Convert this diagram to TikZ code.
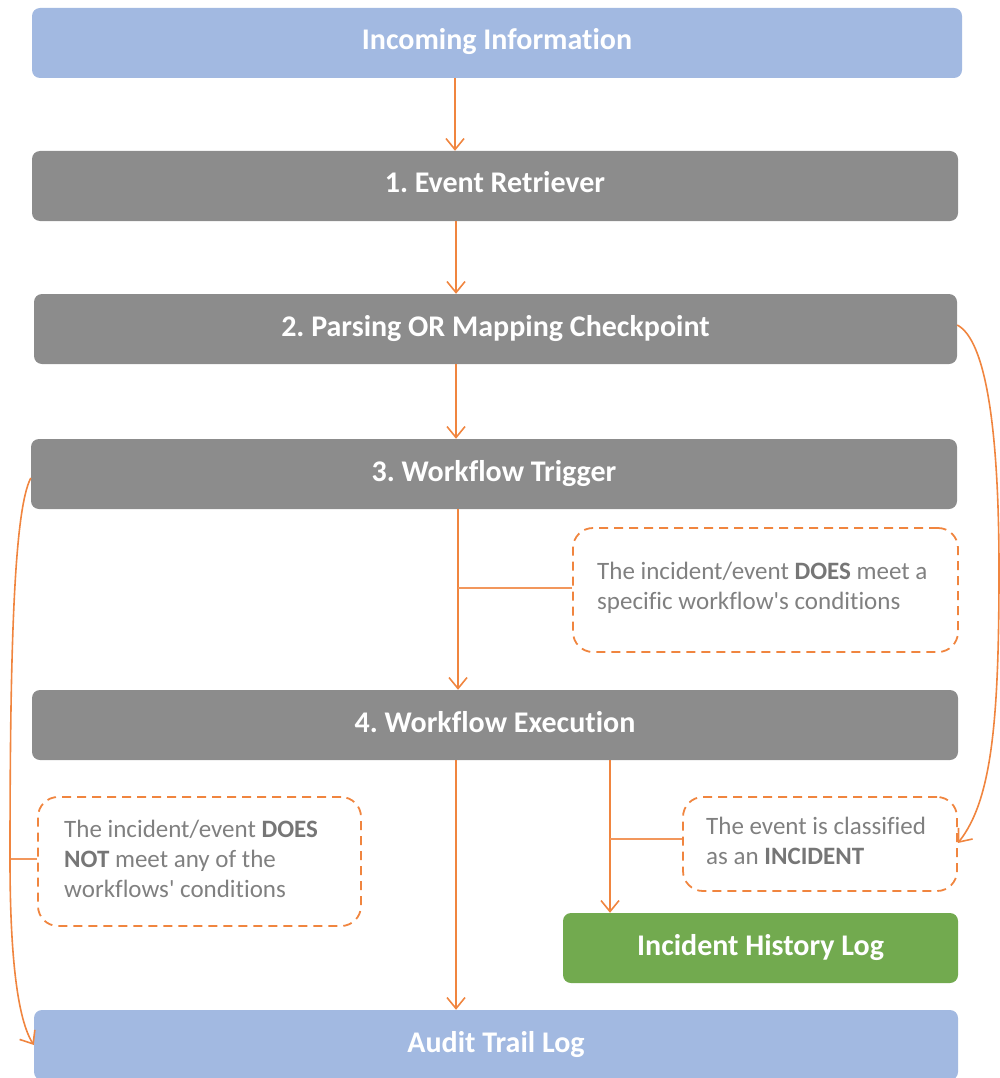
\documentclass[tikz,border=0pt]{standalone}
\usepackage{fontspec}
\setmainfont{Carlito}[Ligatures={NoCommon}]
\usetikzlibrary{arrows.meta}
\definecolor{boxblue}{HTML}{A2B9E1}
\definecolor{boxgray}{HTML}{8C8C8C}
\definecolor{boxgreen}{HTML}{72AA4F}
\definecolor{arrorange}{HTML}{F0853F}
\definecolor{txtgray}{HTML}{808080}
\definecolor{boldgray}{HTML}{767676}
\frenchspacing
\begin{document}
\begin{tikzpicture}[x=1pt,y=-1pt,
  box/.style={rounded corners=8pt, minimum height=70pt, inner sep=0pt, text=white,
    text height=22pt, text depth=8pt,
    font=\fontsize{30}{36}\selectfont\bfseries},
  bluebox/.style={box, fill=boxblue},
  graybox/.style={box, fill=boxgray},
  greenbox/.style={box, fill=boxgreen},
  callout/.style={draw=arrorange, line width=1.8pt, dash pattern=on 9pt off 6pt,
    rounded corners=20pt, inner sep=0pt},
  calltext/.style={anchor=west, align=left, inner sep=0pt, text=txtgray,
    font=\fontsize{25}{30}\selectfont},
  arr/.style={draw=arrorange, line width=1.6pt, -{Straight Barb[length=11pt,width=18pt,line width=1.6pt]}},
  branch/.style={draw=arrorange!85, line width=1.1pt}
]
\useasboundingbox (0,0) rectangle (1000,1078);
\clip (0,0) rectangle (1000,1078);

\newcommand{\bw}[1]{\textbf{\color{boldgray}#1}}

% main boxes
\node[bluebox, minimum width=930pt] (in) at (497,43) {Incoming Information};
\node[graybox, minimum width=926pt] (er) at (495,186) {1. Event Retriever};
\node[graybox, minimum width=923pt] (pm) at (495.5,329) {2. Parsing OR Mapping Checkpoint};
\node[graybox, minimum width=926pt] (wt) at (494,474) {3. Workflow Trigger};
\node[graybox, minimum width=926pt] (we) at (495,725) {4. Workflow Execution};
\node[greenbox, minimum width=395pt] (ih) at (760.5,948) {Incident History Log};
\node[bluebox, minimum width=924pt] (at) at (496,1045) {Audit Trail Log};

% callouts
\node[callout, minimum width=385pt, minimum height=124pt] (c1) at (765.5,590) {};
\node[calltext] (t1) at (597,588) {The incident/event \bw{DOES} meet a\\specific workflow\textquotesingle s conditions};
\node[callout, minimum width=323pt, minimum height=129pt] (c2) at (199.5,861.5) {};
\node[calltext] (t2) at (64,859) {The incident/event \bw{DOES}\\\bw{NOT} meet any of the\\workflows\textquotesingle\ conditions};
\node[callout, minimum width=274pt, minimum height=94pt] (c3) at (820,844) {};
\node[calltext] (t3) at (706,841) {The event is classified\\as an \bw{INCIDENT}};

% straight arrows
\draw[arr] ([xshift=-42pt]in.south) -- ([xshift=-40pt]er.north);
\draw[arr] ([xshift=-39pt]er.south) -- ([xshift=-39.5pt]pm.north);
\draw[arr] ([xshift=-39.5pt]pm.south) -- ([xshift=-38pt]wt.north);
\draw[arr] ([xshift=-36pt]wt.south) -- ([xshift=-37pt]we.north);
\draw[arr] ([xshift=-39pt]we.south) -- ([xshift=-40pt]at.north);
\draw[arr] ([xshift=115pt]we.south) -- ([xshift=-150.5pt]ih.north);

% branches to callouts
\coordinate (j1) at (458,588);
\coordinate (j3) at (610,839);
\coordinate (j2) at (10,859);
\draw[branch] (c1.west |- j1) -- (j1);
\draw[branch] (c3.west |- j3) -- (j3);
\draw[branch] (c2.west |- j2) -- (j2);

% curved arrows
\draw[arr] ([yshift=4pt]pm.east) .. controls (986,340) and (999,430) .. (999,570)
  .. controls (999,720) and (992,800) .. ([yshift=1pt]c3.east);
\draw[arr] ([yshift=-4pt]wt.west) .. controls (14,510) and (10,650) .. (j2)
  .. controls (10,960) and (18,1020) .. (at.west);
\end{tikzpicture}
\end{document}
